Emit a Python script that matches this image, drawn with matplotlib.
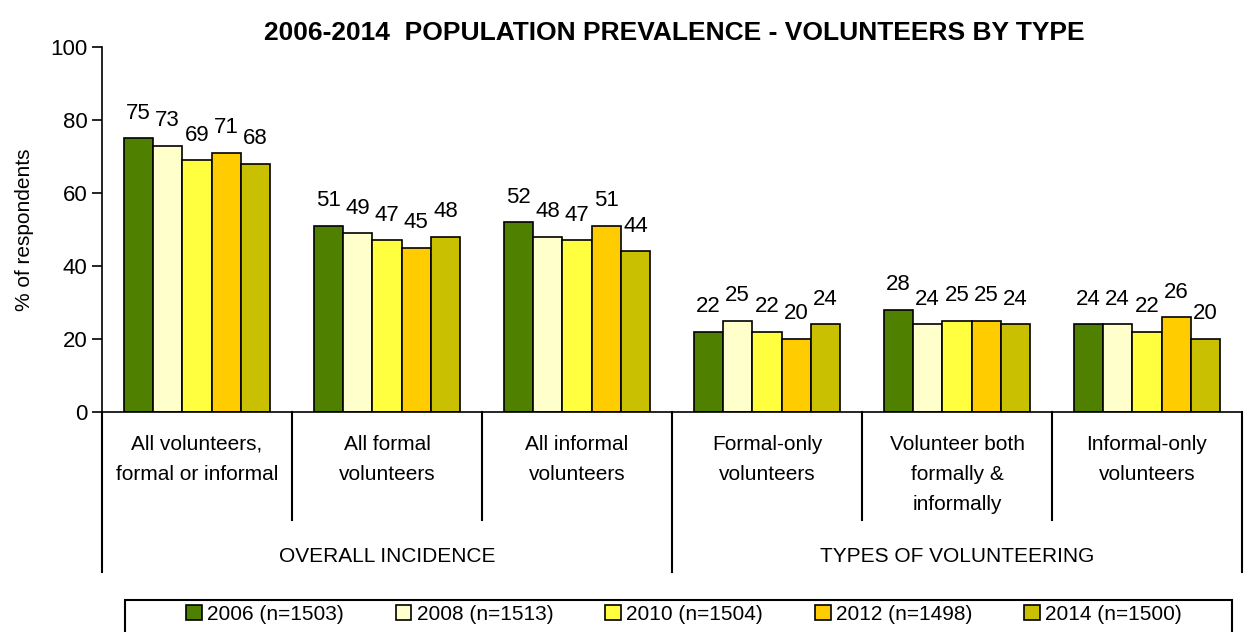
import matplotlib.pyplot as plt
from matplotlib import font_manager
from matplotlib.patches import Rectangle

names = {f.name for f in font_manager.fontManager.ttflist}
narrow = 'Liberation Sans Narrow' if 'Liberation Sans Narrow' in names else 'Liberation Sans'
plt.rcParams['font.family'] = [narrow, 'DejaVu Sans']

# categories and groups
categories = ['All volunteers,\nformal or informal', 'All formal\nvolunteers',
              'All informal\nvolunteers', 'Formal-only\nvolunteers',
              'Volunteer both\nformally &\ninformally', 'Informal-only\nvolunteers']
groups = ['OVERALL INCIDENCE', 'TYPES OF VOLUNTEERING']
group_sizes = [3, 3]

# survey years
series = ['2006 (n=1503)', '2008 (n=1513)', '2010 (n=1504)', '2012 (n=1498)', '2014 (n=1500)']
v2006 = [75, 51, 52, 22, 28, 24]
v2008 = [73, 49, 48, 25, 24, 24]
v2010 = [69, 47, 47, 22, 25, 22]
v2012 = [71, 45, 51, 20, 25, 26]
v2014 = [68, 48, 44, 24, 24, 20]
values = [v2006, v2008, v2010, v2012, v2014]
colors = ['#4f8000', '#ffffcc', '#ffff40', '#ffcc00', '#c8c000']

W, H = 1245, 632
fig = plt.figure(figsize=(W / 100, H / 100), dpi=100)
ax = fig.add_axes([102 / W, 1 - 412 / H, (1242 - 102) / W, (412 - 47) / H])

bw = 0.154
n = len(series)
for k in range(n):
    xs = [i + (k - (n - 1) / 2) * bw for i in range(len(categories))]
    ax.bar(xs, values[k], width=bw, color=colors[k], edgecolor='black',
           linewidth=1.2, label=series[k], zorder=2)
    for x, v in zip(xs, values[k]):
        ax.text(x, v + 4.0, str(v), ha='center', va='bottom', fontsize=16)

ax.set_xlim(-0.5, len(categories) - 0.5)
ax.set_ylim(0, 100)
ax.set_yticks(range(0, 101, 20))
ax.tick_params(axis='y', labelsize=16, length=7, width=1.2, direction='out')
ax.set_xticks([])
ax.set_ylabel('% of respondents', fontsize=15, labelpad=12)
for s in ['top', 'right']:
    ax.spines[s].set_visible(False)
for s in ['left', 'bottom']:
    ax.spines[s].set_linewidth(1.2)

ax.set_title('2006-2014  POPULATION PREVALENCE - VOLUNTEERS BY TYPE',
             fontsize=19, fontweight='bold', pad=5, x=0.502)

# category axis: labels with separators
tr = ax.get_xaxis_transform()
ax_h = (412 - 47)
def ay(px):
    return -(px - 412) / ax_h

for i, lab in enumerate(categories):
    ax.text(i, ay(435), lab, transform=tr, ha='center', va='top',
            fontsize=15, linespacing=1.75)

edges = [-0.5]
for sz in group_sizes:
    edges.append(edges[-1] + sz)
for j in range(len(categories) + 1):
    x = j - 0.5
    bottom = ay(572) if x in edges else ay(520)
    ax.plot([x, x], [0, bottom], transform=tr, color='black', lw=1.5,
            clip_on=False)

for g, lab in enumerate(groups):
    mid = (edges[g] + edges[g + 1]) / 2
    ax.text(mid, ay(556), lab, transform=tr, ha='center', va='center', fontsize=15)

# legend in a plain box
fig.patches.append(Rectangle((125 / W, -0.05), (1232 - 125) / W, 1 - 600 / H + 0.05,
                             transform=fig.transFigure, fill=False,
                             edgecolor='black', linewidth=1.5))
fig.legend(loc='center', bbox_to_anchor=(684 / W, 1 - 614 / H), ncol=5,
           frameon=False, fontsize=15, handlelength=0.75, handleheight=0.75,
           handletextpad=0.25, columnspacing=2.5)

fig.savefig('out.png', dpi=100)
